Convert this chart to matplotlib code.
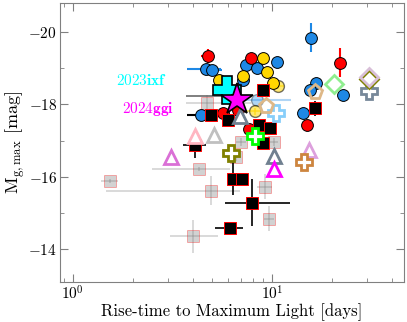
import numpy as np
import matplotlib.pyplot as plt
from matplotlib.ticker import MultipleLocator

plt.rcParams['font.family'] = 'serif'
plt.rcParams['font.serif'] = ['cmr10']
plt.rcParams['mathtext.fontset'] = 'cm'
plt.rcParams['axes.formatter.use_mathtext'] = True
plt.rcParams['axes.unicode_minus'] = True

# red circles
red_x = [4.77, 7.84, 22.0, 5.67, 6.75, 7.66, 15.0]
red_y = [-19.34, -19.27, -19.15, -17.75, -17.84, -17.32, -17.42]
red_xerr = [0.35, 0.2, 0.0, 0.2, 0.2, 0.3, 0.3]
red_yerr = [0.2, 0.1, 0.4, 0.1, 0.1, 0.1, 0.1]

# blue circles
blue_x = [4.66, 4.99, 15.7, 10.6, 7.40, 8.41, 7.15, 16.6, 15.5, 22.7, 14.3]
blue_y = [-18.99, -18.96, -19.84, -19.18, -19.10, -19.01, -18.66, -18.58, -18.41, -18.27, -17.75]
blue_xerr = [0.9, 0.6, 0.0, 0.3, 0.3, 0.3, 0.3, 0.2, 0.2, 0.2, 0.2]
blue_yerr = [0.05, 0.05, 0.4, 0.1, 0.05, 0.05, 0.05, 0.05, 0.05, 0.05, 0.1]
blue2_x = [4.40]
blue2_y = [-17.70]
faint_blue_x = [8.41]
faint_blue_y = [-18.11]

# gold circles
gold_x = [9.01, 5.42, 7.15, 9.44, 10.1]
gold_y = [-19.29, -18.68, -18.77, -18.90, -18.60]
gold_faint_x = [10.7, 8.21]
gold_faint_y = [-18.52, -17.81]

# black squares
sq_x = [9.01, 16.4, 4.94, 6.01, 8.60, 9.77, 9.01, 4.10, 6.37, 7.07, 7.93, 6.15]
sq_y = [-18.41, -17.89, -17.70, -17.56, -17.42, -17.34, -16.93, -16.88, -15.95, -15.95, -15.29, -14.60]
sq_xlo = [0.2, 0.3, 0.2, 0.2, 0.2, 0.3, 0.3, 0.55, 0.2, 0.3, 2.1, 1.0]
sq_xhi = [0.2, 0.3, 0.2, 0.2, 0.2, 0.3, 0.3, 0.55, 0.2, 0.3, 4.4, 1.0]
sq_yerr = [0.1, 0.2, 0.1, 0.1, 0.1, 0.1, 0.1, 0.35, 0.45, 0.1, 0.65, 0.1]

# grey squares
gsq_x = [1.53, 4.30, 4.94, 4.01, 9.22, 9.66, 6.98, 6.59, 10.2, 4.71]
gsq_y = [-15.89, -16.22, -15.62, -14.36, -15.73, -14.85, -16.96, -16.55, -16.96, -18.05]
gsq_xlo = [0.14, 1.8, 3.47, 0.94, 0.8, 0.6, 0.4, 0.4, 0.5, 1.0]
gsq_xhi = [0.15, 1.85, 1.97, 1.35, 0.8, 0.6, 0.4, 0.4, 0.5, 3.1]
gsq_yerr = [0.05, 0.05, 0.4, 0.45, 0.35, 0.35, 0.1, 0.1, 0.1, 0.2]

# open triangles
tri_x = [4.10, 5.11, 3.11, 10.2, 10.2, 15.3, 6.91]
tri_y = [-17.12, -17.15, -16.55, -16.58, -16.22, -16.74, -17.67]
tri_c = ['lightpink', 'silver', 'orchid', 'slategray', 'magenta', 'plum', 'slategray']

# plus markers
plus_x = [6.22, 8.21, 10.4, 30.7, 14.5]
plus_y = [-16.66, -17.12, -17.75, -18.36, -16.41]
plus_c = ['olive', 'lime', 'lightskyblue', 'lightslategray', 'peru']

# pentagons and diamonds
pent_x = [16.4, 9.33]
pent_y = [-18.33, -17.95]
diam_x = [20.5, 30.7, 30.7]
diam_y = [-18.55, -18.69, -18.76]
diam_c = ['lightgreen', 'olive', 'thistle']

# SN 2023ixf and 2024ggi
ixf_x, ixf_y = 5.94, -18.41
ggi_x, ggi_y = 6.67, -18.11

fig = plt.figure(figsize=(4.07, 3.22), dpi=100)
ax = fig.add_axes([0.147, 0.124, 0.846, 0.867])

ax.errorbar(gsq_x, gsq_y, xerr=[gsq_xlo, gsq_xhi], yerr=gsq_yerr, fmt='s', ms=8,
            mfc='grey', mec='red', mew=0.6, alpha=0.35, ecolor='grey', elinewidth=1.2, zorder=2)
ax.errorbar([4.71], [-18.22], xerr=[[1.0], [3.1]], fmt='none', ecolor='dimgrey', elinewidth=1.2, zorder=2)
ax.errorbar(faint_blue_x, faint_blue_y, xerr=[[1.5], [4.0]], fmt='o', ms=8.5, mfc='#1e88e5',
            mec='k', alpha=0.35, ecolor='#1e88e5', zorder=2)
ax.errorbar(gold_faint_x, gold_faint_y, xerr=0.8, yerr=0.1, fmt='o', ms=8.5, mfc='gold',
            mec='k', alpha=0.55, ecolor='gold', zorder=3)
ax.errorbar(blue_x, blue_y, xerr=blue_xerr, yerr=blue_yerr, fmt='o', ms=8.5, mfc='#1e88e5',
            mec='k', mew=0.7, ecolor='#1e88e5', zorder=4)
ax.errorbar(blue2_x, blue2_y, xerr=0.66, fmt='o', ms=8.5, mfc='#1e88e5',
            mec='k', mew=0.7, ecolor='k', zorder=4)
ax.errorbar(gold_x, gold_y, xerr=0.2, yerr=0.05, fmt='o', ms=8.5, mfc='gold',
            mec='k', mew=0.7, ecolor='gold', zorder=4)
ax.errorbar(red_x, red_y, xerr=red_xerr, yerr=red_yerr, fmt='o', ms=8.5, mfc='red',
            mec='k', mew=0.7, ecolor='red', zorder=5)
ax.errorbar(sq_x, sq_y, xerr=[sq_xlo, sq_xhi], yerr=sq_yerr, fmt='s', ms=8, mfc='k',
            mec='red', mew=0.7, ecolor='k', elinewidth=1.2, zorder=5)

for x, y, c in zip(tri_x, tri_y, tri_c):
    ax.plot(x, y, '^', ms=10, mfc='white', mec=c, mew=2, zorder=6)
for x, y, c in zip(plus_x, plus_y, plus_c):
    ax.plot(x, y, 'P', ms=11, mfc='white', mec=c, mew=2, zorder=6)
ax.plot(pent_x, pent_y, 'p', ls='none', ms=11, mfc='none', mec='burlywood', mew=2, zorder=6)
for x, y, c in zip(diam_x, diam_y, diam_c):
    ax.plot(x, y, 'D', ms=9, mfc='white' if c != 'thistle' else 'none', mec=c, mew=2, zorder=6)

ax.plot(ixf_x, ixf_y, 'P', ms=20, mfc='cyan', mec='k', mew=1.2, zorder=8)
ax.plot(ggi_x, ggi_y, '*', ms=24, mfc='magenta', mec='k', mew=1.2, zorder=9)

ax.text(2.22, -18.66, r'$\mathbf{2023ixf}$', color='cyan', fontsize=11, ha='center', va='center')
ax.text(2.38, -17.86, r'$\mathbf{2024ggi}$', color='magenta', fontsize=11, ha='center', va='center')

ax.set_xscale('log')
ax.set_xlim(0.86, 46)
ax.set_ylim(-13.1, -20.8)
ax.yaxis.set_major_locator(MultipleLocator(2))
ax.yaxis.set_minor_locator(MultipleLocator(1))
ax.tick_params(which='both', direction='in', top=True, right=True, labelsize=11,
               color='grey', pad=2)
ax.tick_params(which='major', length=6)
ax.tick_params(which='minor', length=3)
for s in ax.spines.values():
    s.set_color('grey')
ax.set_xlabel('Rise-time to Maximum Light [days]', fontsize=12, labelpad=0)
ax.set_ylabel(r'$\mathrm{M}_{\mathrm{g,max}}$ [mag]', fontsize=13, labelpad=1)

fig.savefig('out.png', dpi=100)
